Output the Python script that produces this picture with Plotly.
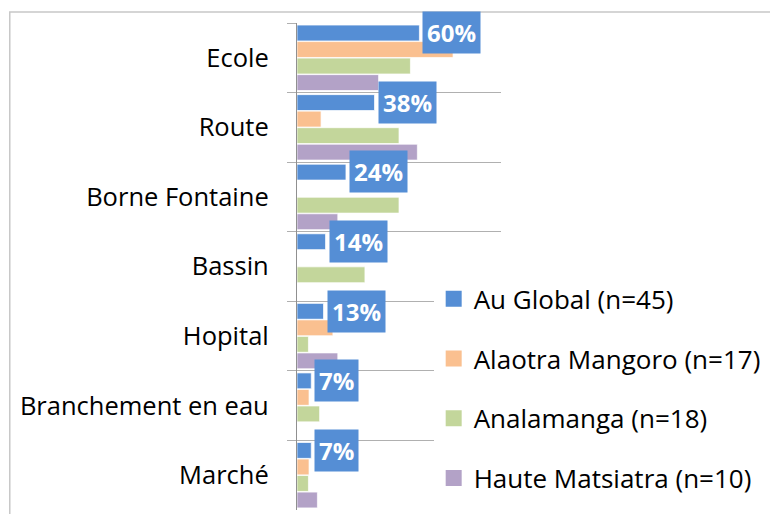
import plotly.graph_objects as go

categories = ["Ecole", "Route", "Borne Fontaine", "Bassin", "Hopital", "Branchement en eau", "Marché"]
series_names = ["Au Global (n=45)", "Alaotra Mangoro (n=17)", "Analamanga (n=18)", "Haute Matsiatra (n=10)"]
au_global = [0.60, 0.38, 0.24, 0.14, 0.13, 0.07, 0.07]
alaotra = [0.765, 0.118, 0.0, 0.0, 0.176, 0.059, 0.059]
analamanga = [0.556, 0.50, 0.50, 0.333, 0.056, 0.111, 0.056]
haute = [0.40, 0.59, 0.20, 0.0, 0.20, 0.0, 0.10]
global_labels = ["60%", "38%", "24%", "14%", "13%", "7%", "7%"]

colors = ["#558ED5", "#FAC090", "#C3D69B", "#B3A2C7"]
all_series = [au_global, alaotra, analamanga, haute]

FONT = "Open Sans"

fig = go.Figure()
for i, (name, vals) in enumerate(zip(series_names, all_series)):
    fig.add_trace(go.Bar(
        y=categories, x=vals, orientation="h", name=name,
        marker=dict(color=colors[i], line=dict(color="rgba(255,255,255,0.7)", width=1)),
        legendgroup=f"g{i}", hoverinfo="skip", showlegend=False,
    ))
# legend entries with larger square swatches
for i, name in enumerate(series_names):
    fig.add_trace(go.Scatter(
        x=[None], y=[None], mode="markers", name=name,
        marker=dict(symbol="square", size=16, color=colors[i]),
        legendgroup=f"g{i}", showlegend=True, hoverinfo="skip",
    ))

for cat, v, lab in zip(categories, au_global, global_labels):
    fig.add_annotation(
        x=v, y=cat, xref="x", yref="y", text=f"<b>{lab}</b>", showarrow=False,
        xanchor="left", yanchor="middle", xshift=3, yshift=25,
        font=dict(family=FONT, size=24, color="white"),
        bgcolor="#558ED5", borderpad=4,
    )

fig.add_shape(type="rect", xref="paper", yref="paper",
              x0=-1.408, x1=3.0, y0=-0.2, y1=1.0226,
              line=dict(color="#c8c8c8", width=1.5), fillcolor="rgba(0,0,0,0)", layer="below")

n = len(categories)
fig.update_layout(
    width=770, height=506,
    margin=dict(l=289, r=276.5, t=15, b=4, autoexpand=False),
    paper_bgcolor="white", plot_bgcolor="white",
    barmode="group", bargap=0.05, bargroupgap=0.04,
    font=dict(family=FONT, size=24, color="black"),
    showlegend=True,
    legend=dict(
        x=0.67, y=0.482, xanchor="left", yanchor="top",
        bgcolor="white", traceorder="grouped", tracegroupgap=23,
        font=dict(family=FONT, size=26, color="black"),
    ),
    xaxis=dict(range=[0, 1.0], showgrid=False, showticklabels=False, zeroline=False,
               showline=False, ticks="", automargin=False),
    yaxis=dict(range=[n - 0.5, -0.5], tickson="boundaries", showgrid=True,
               gridcolor="#b0b0b0", gridwidth=1.3, ticks="outside", ticklen=9,
               tickcolor="#b0b0b0", showline=True, linecolor="#909090", linewidth=1.3,
               ticklabelstandoff=22, automargin=False,
               tickfont=dict(family=FONT, size=25.5, color="black")),
)

fig.write_html("out.html")
